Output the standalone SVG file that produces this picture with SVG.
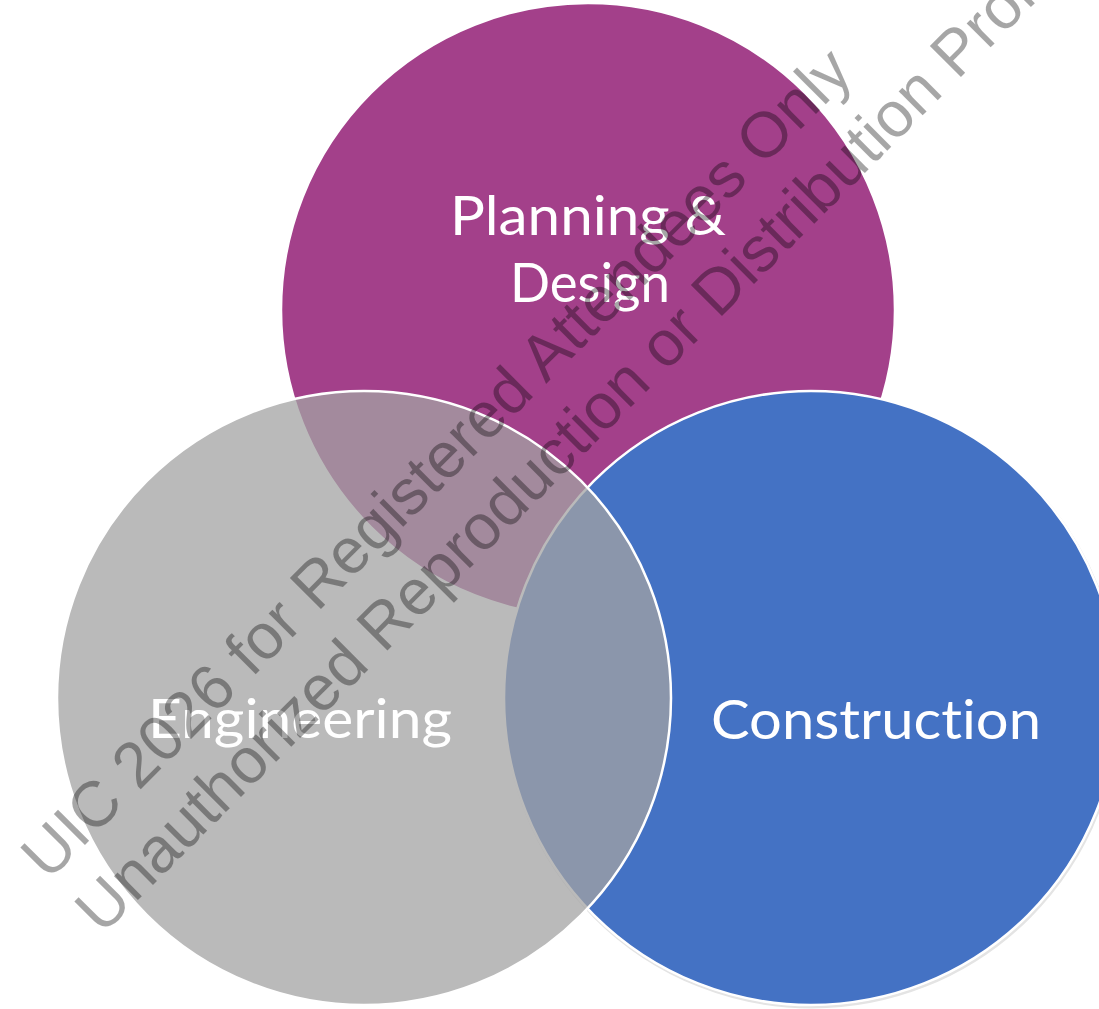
<svg xmlns="http://www.w3.org/2000/svg" width="1099" height="1009" viewBox="0 0 1099 1009">
  <style>
    .circ { stroke: #ffffff; stroke-width: 2.5; }
    .label { font-family: "Lato", "Open Sans", "Liberation Sans", sans-serif; font-size: 55px; fill: #ffffff; text-anchor: middle; font-variant-ligatures: none; font-feature-settings: "liga" 0, "clig" 0; }
    .wm { font-family: "Liberation Sans", Arial, sans-serif; font-size: 64px; fill: #000000; fill-opacity: 0.35; }
  </style>
  <rect x="0" y="0" width="1099" height="1009" fill="#ffffff"/>
  <g id="node-planning-design">
    <circle class="circ" cx="588" cy="310" r="307" fill="#A3408A"/>
    <text class="label" x="588" y="235" textLength="276" lengthAdjust="spacingAndGlyphs">Planning &amp;</text>
    <text class="label" x="590" y="302" textLength="160" lengthAdjust="spacingAndGlyphs">Design</text>
  </g>
  <g id="node-construction">
    <circle cx="812" cy="700" r="307" fill="none" stroke="#e4e4e4" stroke-width="3"/>
    <circle class="circ" cx="811" cy="698" r="307" fill="#4472C4"/>
    <text class="label" x="876" y="739" textLength="330" lengthAdjust="spacingAndGlyphs">Construction</text>
  </g>
  <g id="node-engineering">
    <circle class="circ" cx="364" cy="698" r="307" fill="#A3A3A3" fill-opacity="0.75"/>
    <text class="label" x="300" y="738" textLength="304" lengthAdjust="spacingAndGlyphs">Engineering</text>
  </g>
  <g id="watermark">
    <text class="wm" transform="translate(48 882) rotate(-45)" x="0" y="0">UIC 2026 for Registered Attendees Only</text>
    <text class="wm" transform="translate(102 936) rotate(-45)" x="0" y="0">Unauthorized Reproduction or Distribution Prohibited</text>
  </g>
</svg>
